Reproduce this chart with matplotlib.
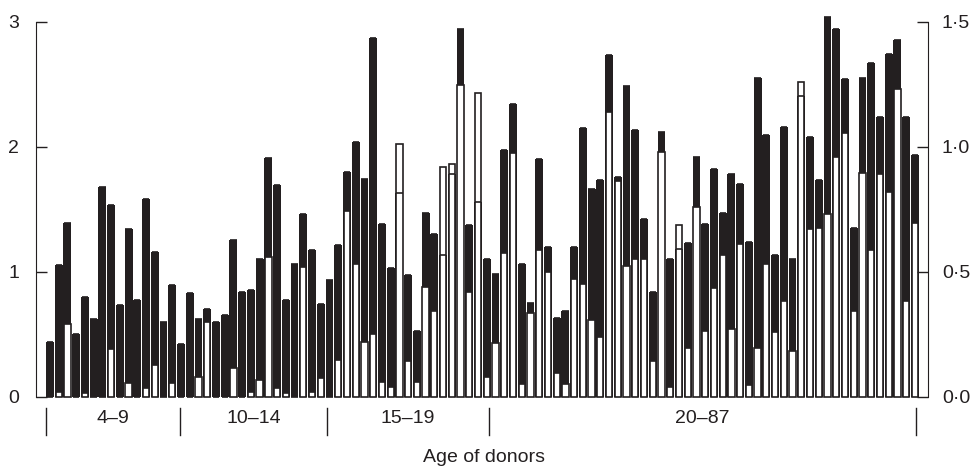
import numpy as np
import matplotlib
matplotlib.use('Agg')
import matplotlib.pyplot as plt
import matplotlib.transforms as mtransforms

plt.rcParams['font.family'] = ['Liberation Sans', 'DejaVu Sans']

# black bars (left axis) and white bars (right axis), one pair per donor
black_vals = [0.44, 1.05, 1.39, 0.50, 0.80, 0.62, 1.68, 1.53, 0.73, 1.34,
              0.77, 1.58, 1.16, 0.60, 0.89, 0.42, 0.83, 0.62, 0.70, 0.60,
              0.65, 1.25, 0.84, 0.85, 1.10, 1.91, 1.69, 0.77, 1.06, 1.46,
              1.17, 0.74, 0.93, 1.21, 1.80, 2.04, 1.74, 2.87, 1.38, 1.03,
              1.63, 0.97, 0.525, 1.47, 1.30, 1.13, 1.78, 2.94, 1.37, 1.56,
              1.10, 0.98, 1.97, 2.34, 1.06, 0.75, 1.90, 1.20, 0.63, 0.685,
              1.20, 2.15, 1.66, 1.73, 2.73, 1.755, 2.485, 2.13, 1.42, 0.835,
              2.12, 1.10, 1.18, 1.23, 1.92, 1.38, 1.82, 1.47, 1.78, 1.70,
              1.235, 2.55, 2.09, 1.13, 2.16, 1.10, 2.405, 2.075, 1.73, 3.035,
              2.94, 2.54, 1.35, 2.55, 2.67, 2.24, 2.74, 2.85, 2.24, 1.93]
white_vals = [0.0, 0.02, 0.29, 0.0, 0.013, 0.0, 0.0, 0.19, 0.0, 0.056,
              0.0, 0.036, 0.127, 0.0, 0.056, 0.0, 0.0, 0.08, 0.30, 0.0,
              0.0, 0.116, 0.0, 0.017, 0.067, 0.56, 0.036, 0.013, 0.0, 0.52,
              0.02, 0.075, 0.0, 0.148, 0.744, 0.53, 0.22, 0.25, 0.057, 0.04,
              1.01, 0.143, 0.057, 0.44, 0.343, 0.917, 0.93, 1.247, 0.42, 1.215,
              0.08, 0.215, 0.573, 0.975, 0.05, 0.335, 0.585, 0.50, 0.093, 0.05,
              0.47, 0.452, 0.305, 0.237, 1.139, 0.864, 0.524, 0.55, 0.55, 0.143,
              0.98, 0.037, 0.688, 0.195, 0.757, 0.263, 0.435, 0.567, 0.27, 0.609,
              0.045, 0.195, 0.53, 0.257, 0.384, 0.184, 1.26, 0.671, 0.676, 0.731,
              0.957, 1.053, 0.343, 0.896, 0.585, 0.892, 0.817, 1.231, 0.384, 0.695]

group_labels = ['4\u20139', '10\u201314', '15\u201319', '20\u201387']
group_edges = [-0.4, 14.9, 31.7, 50.3, 99.1]

left_ticks = [0, 1, 2, 3]
right_ticks = [0.0, 0.5, 1.0, 1.5]
right_ticklabels = ['0\u00b70', '0\u00b75', '1\u00b70', '1\u00b75']

ink = '#231f20'
x = np.arange(len(black_vals))

fig = plt.figure(figsize=(9.72, 4.72), dpi=100)
ax = fig.add_axes([0.037, 0.1595, 0.9177, 0.7945])
ax2 = ax.twinx()

ax.bar(x, black_vals, width=0.9, color=ink, edgecolor='none', clip_on=False)
ax2.bar(x, white_vals, width=0.72, color='white', edgecolor=ink,
        linewidth=1.2, clip_on=False)
# top of black bar drawn over the white one
ax2.hlines(black_vals, x - 0.36, x + 0.36, colors=ink, linewidth=1.2,
           transform=ax.transData, clip_on=False)

ax.set_xlim(-1.6, 100.5)
ax.set_ylim(0, 3)
ax2.set_ylim(0, 1.5)

for a in (ax, ax2):
    for s in ['top', 'bottom']:
        a.spines[s].set_visible(False)
    a.spines['left'].set_color(ink)
    a.spines['right'].set_color(ink)
ax.spines['right'].set_visible(False)
ax2.spines['left'].set_visible(False)

ax.set_xticks([])
ax.set_yticks(left_ticks)
ax.set_yticklabels([str(t) for t in left_ticks])
ax.tick_params(axis='y', direction='in', length=8, width=1, pad=12,
               labelsize=14, colors=ink)
ax2.set_yticks(right_ticks)
ax2.set_yticklabels(right_ticklabels)
ax2.tick_params(axis='y', direction='in', length=8, width=1, pad=10,
                labelsize=14, colors=ink)

# group separators and labels under the bars
trans = mtransforms.blended_transform_factory(ax.transData, ax.transAxes)
for e in group_edges:
    ax.plot([e, e], [-0.03, -0.102], color=ink, linewidth=1,
            transform=trans, clip_on=False)
for i, lab in enumerate(group_labels):
    mid = (group_edges[i] + group_edges[i + 1]) / 2
    ax.text(mid, -0.057, lab, transform=trans, ha='center', va='center',
            fontsize=14, color=ink)

fig.text(0.498, 0.03, 'Age of donors', ha='center', va='center',
         fontsize=14, color=ink)

fig.savefig('out.png', dpi=100)
